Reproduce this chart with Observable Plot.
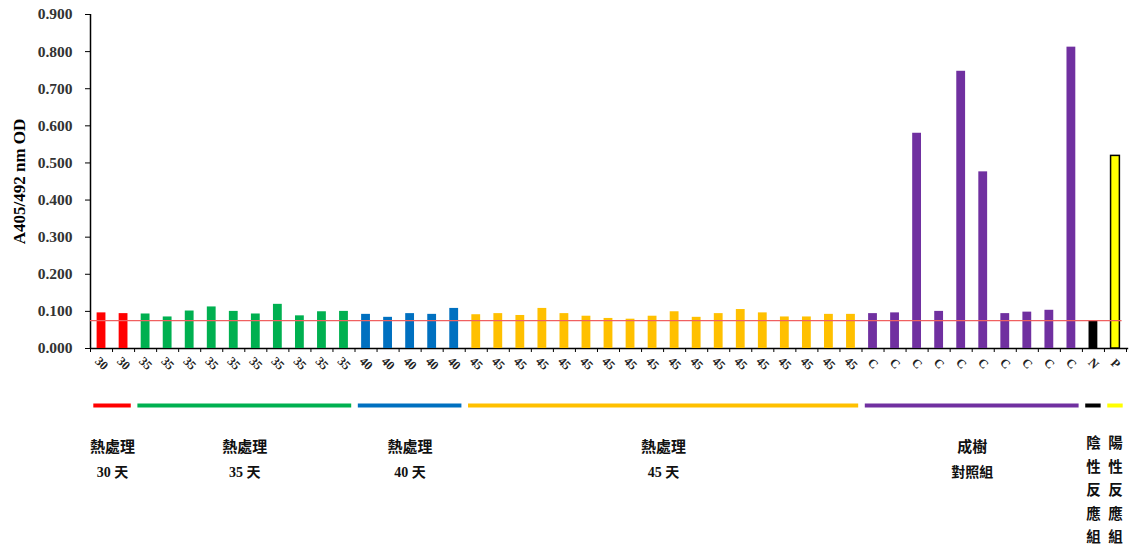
<!DOCTYPE html>
<html>
<head>
<meta charset="utf-8">
<script src="https://cdn.jsdelivr.net/npm/d3@7"></script>
<script src="https://cdn.jsdelivr.net/npm/@observablehq/plot@0.6"></script>
<style>
  html, body { margin: 0; padding: 0; background: #fff; }
  #chart svg { display: block; }
</style>
</head>
<body>
<div id="chart"></div>
<script>
// ---- data ----
const groupKeys = ["30", "35", "40", "45", "C", "N", "P"];
const groupColors = ["#ff0000", "#00b050", "#0070c0", "#ffc000", "#7030a0", "#000000", "#ffff00"];
const values30 = [0.096, 0.094];
const values35 = [0.093, 0.085, 0.101, 0.112, 0.100, 0.093, 0.119, 0.088, 0.099, 0.100];
const values40 = [0.092, 0.084, 0.094, 0.092, 0.108];
const values45 = [0.091, 0.094, 0.089, 0.108, 0.094, 0.087, 0.081, 0.079, 0.087, 0.099, 0.084, 0.094, 0.105, 0.096, 0.085, 0.085, 0.092, 0.092];
const valuesC = [0.094, 0.096, 0.580, 0.100, 0.747, 0.476, 0.094, 0.098, 0.103, 0.812];
const valuesN = [0.074];
const valuesP = [0.519];
const cutoff = 0.075;
const yTicks = [0, 0.1, 0.2, 0.3, 0.4, 0.5, 0.6, 0.7, 0.8, 0.9];
const groupLine1 = ["熱處理", "熱處理", "熱處理", "熱處理", "成樹"];
const groupLine2 = ["30 天", "35 天", "40 天", "45 天", "對照組"];
const verticalLabels = ["陰性反應組", "陽性反應組"];
const yLabel = "A405/492 nm OD";

// ---- build table ----
const groupValues = [values30, values35, values40, values45, valuesC, valuesN, valuesP];
const rows = [];
const groups = [];
let idx = 0;
groupValues.forEach((vals, g) => {
  const start = idx;
  vals.forEach(v => { rows.push({i: idx, label: groupKeys[g], value: v, g}); idx++; });
  groups.push({g, start, end: idx, color: groupColors[g]});
});
const n = idx;

const serif = "'Liberation Serif', 'Times New Roman', 'Noto Sans CJK TC', serif";

const chart = Plot.plot({
  width: 1131,
  height: 551,
  marginTop: 14,
  marginBottom: 203,
  marginLeft: 90,
  marginRight: 5,
  style: {fontFamily: serif, background: "#fff"},
  x: {domain: [0, n], axis: null},
  y: {domain: [0, 0.9], axis: null},
  marks: [
    // y axis
    Plot.axisY({ticks: yTicks, tickFormat: d3.format(".3f"), tickSize: 5, tickPadding: 13,
      fontSize: 15.5, fontWeight: "bold", label: null, stroke: "#000", fill: "#333"}),
    Plot.ruleX([0], {stroke: "#000", strokeWidth: 1.5}),
    Plot.text([yLabel], {frameAnchor: "left", textAnchor: "middle", dx: -71, rotate: -90,
      fontSize: 17, fontWeight: "bold", fill: "#000"}),
    // x axis tick marks
    Plot.axisX({ticks: d3.range(n + 1), tickFormat: () => "", tickSize: 4, label: null, stroke: "#000"}),
    Plot.ruleY([0], {x1: 0, x2: n + 0.1, stroke: "#000", strokeWidth: 1.5}),
    // bars
    Plot.rectY(rows, {x1: d => d.i + 0.3, x2: d => d.i + 0.7, y1: 0, y2: "value",
      fill: d => groupColors[d.g],
      stroke: d => d.label === "P" ? "#000" : "none", strokeWidth: 1.5}),
    // cutoff line
    Plot.ruleY([cutoff], {x1: 0, x2: n - 0.2, stroke: "#f06060", strokeWidth: 1.2}),
    // x tick labels
    Plot.text(rows, {x: d => d.i + 0.5, y: 0, dy: 15, text: "label", rotate: 45,
      fontSize: 12.5, fontWeight: "bold", fill: "#222"}),
    // group bars below axis
    Plot.ruleY(groups, {x1: d => d.start + 0.15, x2: d => d.end - 0.15, y: 0, dy: 57,
      stroke: d => d.color, strokeWidth: 4}),
    // group labels
    Plot.text(groups.slice(0, 5), {x: d => (d.start + d.end) / 2, y: 0, dy: 99,
      text: d => groupLine1[d.g], fontSize: 15, fontWeight: "bold", fill: "#111"}),
    Plot.text(groups.slice(0, 5), {x: d => (d.start + d.end) / 2, y: 0, dy: 124,
      text: d => groupLine2[d.g], fontSize: 14, fontWeight: "bold", fill: "#111"}),
    Plot.text(groups.slice(5), {x: d => (d.start + d.end) / 2, y: 0, dy: 83, lineAnchor: "top",
      text: d => verticalLabels[d.g - 5].split("").join("\n"), lineHeight: 1.62,
      fontSize: 14.5, fontWeight: "bold", fill: "#111"})
  ]
});
document.getElementById("chart").appendChild(chart);
</script>
</body>
</html>
